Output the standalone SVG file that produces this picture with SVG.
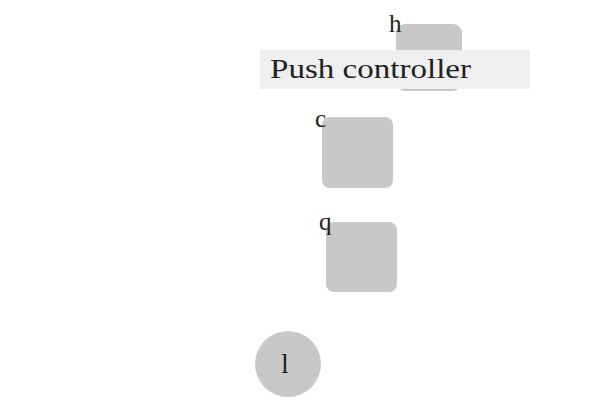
<svg xmlns="http://www.w3.org/2000/svg" width="600" height="400" viewBox="0 0 600 400">
<style>
.node{fill:#c8c8c8}
.lbl{font-family:"Liberation Serif","DejaVu Serif",serif;fill:#222}
</style>
<rect width="600" height="400" fill="#fff"/>
<g id="connectors"></g>
<g id="node-h">
<rect class="node" x="396" y="24" width="66" height="67" rx="9"/>
<text class="lbl" x="389" y="32" font-size="25">h</text>
</g>
<g id="banner">
<rect x="260" y="50" width="270" height="39" fill="#efefef"/>
<text class="lbl" x="270" y="78" font-size="27" textLength="201" lengthAdjust="spacingAndGlyphs">Push controller</text>
</g>
<g id="node-c">
<rect class="node" x="322" y="117" width="71" height="71" rx="8"/>
<text class="lbl" x="315" y="127" font-size="25">c</text>
</g>
<g id="node-q">
<rect class="node" x="326" y="222" width="71" height="70" rx="8"/>
<text class="lbl" x="319" y="230" font-size="25">q</text>
</g>
<g id="node-l">
<circle class="node" cx="288" cy="364" r="33"/>
<text class="lbl" x="285" y="373" font-size="28" text-anchor="middle">l</text>
</g>
</svg>
